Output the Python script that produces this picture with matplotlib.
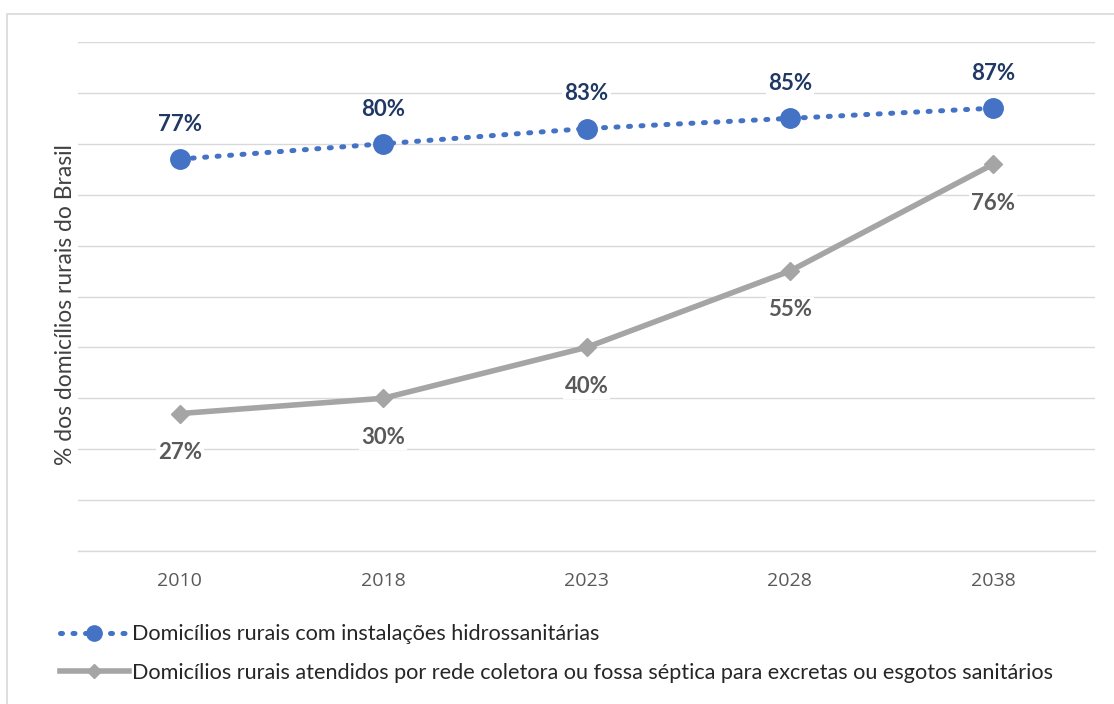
import matplotlib.pyplot as plt
from matplotlib.patches import Rectangle
from matplotlib.lines import Line2D

plt.rcParams['font.family'] = ['Lato', 'DejaVu Sans']

years = ["2010", "2018", "2023", "2028", "2038"]
hidro = [77, 80, 83, 85, 87]
coleta = [27, 30, 40, 55, 76]
hidro_name = "Domicílios rurais com instalações hidrossanitárias"
coleta_name = "Domicílios rurais atendidos por rede coletora ou fossa séptica para excretas ou esgotos sanitários"
ylabel = "% dos domicílios rurais do Brasil"

W, H = 1114, 704
fig = plt.figure(figsize=(W / 100, H / 100), dpi=100)
fig.patch.set_facecolor("white")

# light frame around the chart area
fig.add_artist(Rectangle((7 / W, -0.01), 1.2, 1 - 14 / H + 0.01, transform=fig.transFigure,
                         fill=False, edgecolor="#d9d9d9", linewidth=1.2))

ax = fig.add_axes([78 / W, 1 - 551 / H, (1095 - 78) / W, (551 - 42) / H])
x = list(range(len(years)))

blue = "#4472C4"
gray = "#A5A5A5"
dots = (0, (0.4, 2.1))

ax.plot(x, coleta, color=gray, linewidth=4, marker="D", markersize=9,
        markerfacecolor=gray, markeredgecolor=gray, zorder=3, solid_capstyle="round")
ax.plot(x, hidro, color=blue, linewidth=3.6, linestyle=dots,
        dash_capstyle="round", marker="o", markersize=14,
        markerfacecolor=blue, markeredgecolor=blue, zorder=4)

for xi, v in zip(x, hidro):
    ax.annotate(f"{v}%", (xi, v), xytext=(0, 25), textcoords="offset points",
                ha="center", va="center", fontsize=16, fontweight="bold", color="#203864",
                bbox=dict(facecolor="white", edgecolor="none", pad=1.5), zorder=5)
for xi, v in zip(x, coleta):
    ax.annotate(f"{v}%", (xi, v), xytext=(0, -28), textcoords="offset points",
                ha="center", va="center", fontsize=16, fontweight="bold", color="#595959",
                bbox=dict(facecolor="white", edgecolor="none", pad=1.5), zorder=5)

ax.set_xlim(-0.5, len(years) - 0.5)
ax.set_ylim(0, 100)
ax.set_yticks(range(0, 101, 10))
ax.set_yticklabels([])
ax.tick_params(axis="y", length=0)
ax.set_xticks(x)
ax.set_xticklabels(years, color="#595959", fontsize=14, family=["Open Sans", "DejaVu Sans"])
ax.tick_params(axis="x", length=0, pad=15)
ax.grid(axis="y", color="#d9d9d9", linewidth=1)
ax.set_axisbelow(True)
for s in ["top", "right", "left"]:
    ax.spines[s].set_visible(False)
ax.spines["bottom"].set_color("#d9d9d9")
ax.spines["bottom"].set_linewidth(1)

fig.text(66 / W, 1 - 305 / H, ylabel, rotation=90, ha="center", va="center",
         fontsize=16.5, color="#404040")

handles = [
    Line2D([], [], color=blue, linewidth=3.6, linestyle=dots, dash_capstyle="round",
           marker="o", markersize=11, markerfacecolor=blue, markeredgecolor=blue),
    Line2D([], [], color=gray, linewidth=4, marker="D", markersize=7,
           markerfacecolor=gray, markeredgecolor=gray),
]
fig.legend(handles, [hidro_name, coleta_name], loc="upper left",
           bbox_to_anchor=(40 / W, 1 - 605 / H), frameon=False, fontsize=15.6,
           handlelength=3.2, handletextpad=0.15, labelspacing=0.85, labelcolor="#262626")

fig.savefig("out.png", dpi=100, facecolor="white")
